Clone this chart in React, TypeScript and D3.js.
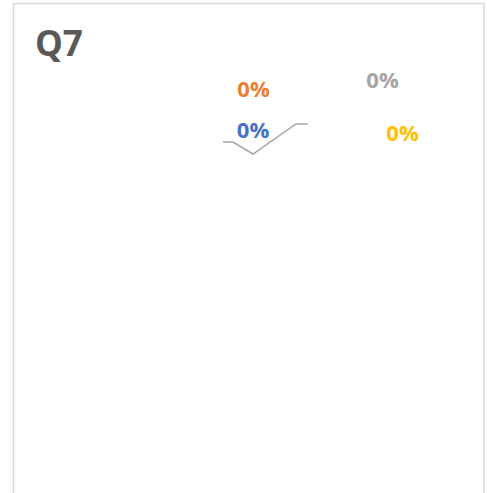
import React from "react";
import * as d3 from "d3";

const categories = ["A", "B", "C", "D"];
const values = [0, 0, 0, 0];
const colors = ["#4472C4", "#ED7D31", "#A5A5A5", "#FFC000"];
// label anchor offsets from the pie centre (Excel best-fit placement)
const labelDx = [0, 0.5, 129.5, 149.5];
const labelDy = [-16, -57.5, -66, -13];
// leader line offsets from the pie centre
const leaderDx = [-30, -20, 0, 43, 55];
const leaderDy = [-12, -12, 0, -30, -30];

const W = 487;
const H = 493;
const cx = 253;
const cy = 154;

export default function App() {
  const pie = d3.pie<number>().sort(null)(values);
  const total = d3.sum(values);
  const fmt = (v: number) => (total === 0 ? "0%" : d3.format(".0%")(v / total));
  const arc = d3.arc<d3.PieArcDatum<number>>().innerRadius(0).outerRadius(0);
  const leader = d3.line<number>()
    .x((_, i) => cx + leaderDx[i])
    .y((_, i) => cy + leaderDy[i]);
  return (
    <svg width={W} height={H} style={{ position: "absolute", left: 0, top: 0, background: "#fff" }}>
      <rect x={13.5} y={3.5} width={470.5} height={520} fill="#fff" stroke="#d9d9d9" strokeWidth={1.5} />
      <text x={35} y={56} fontFamily="'Open Sans', sans-serif" fontWeight={700} fontSize={35} fill="#595959">Q7</text>
      <g transform={`translate(${cx},${cy})`}>
        {pie.map((p, i) => (
          <path key={categories[i]} d={arc(p) || ""} fill={colors[i]} />
        ))}
      </g>
      <path d={leader(leaderDx) || ""} fill="none" stroke="#A6A6A6" strokeWidth={1.5} />
      {pie.map((p, i) => (
        <text
          key={"l" + categories[i]}
          x={cx + labelDx[i]}
          y={cy + labelDy[i]}
          textAnchor="middle"
          fontFamily="'Open Sans', sans-serif"
          fontWeight={700}
          fontSize={22}
          fill={colors[i]}
        >
          {fmt(p.value)}
        </text>
      ))}
    </svg>
  );
}
